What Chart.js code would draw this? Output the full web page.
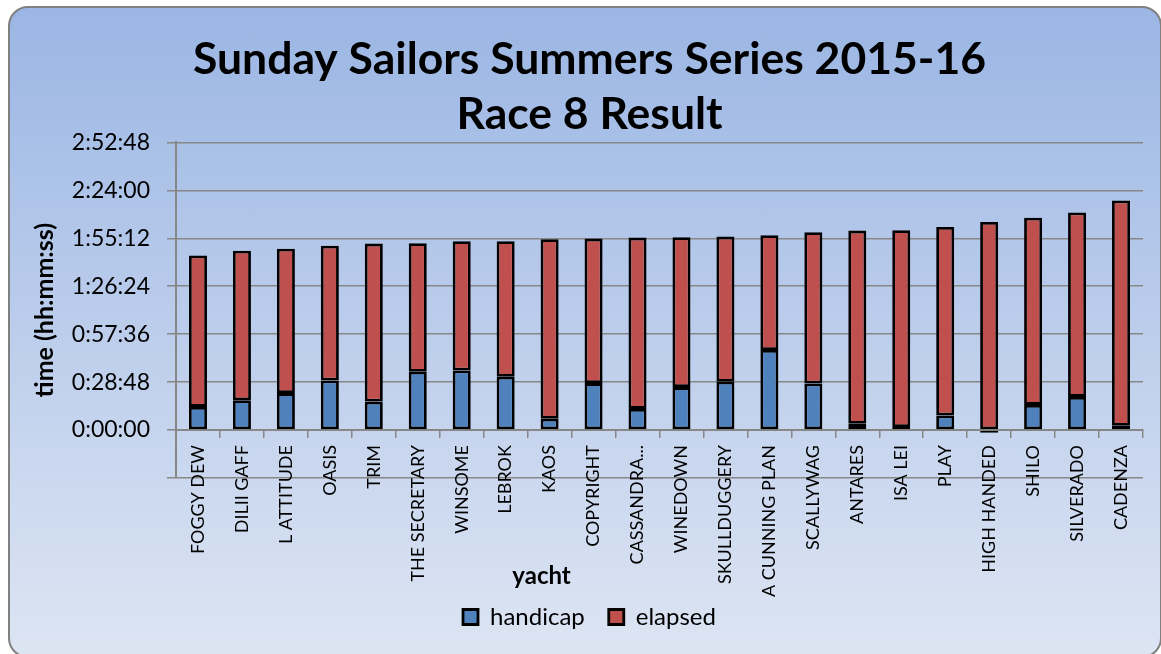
<!DOCTYPE html>
<html>
<head>
<meta charset="utf-8">
<title>Race 8 Result</title>
<script src="https://cdn.jsdelivr.net/npm/chart.js@4/dist/chart.umd.min.js"></script>
<style>
    html, body { margin: 0; padding: 0; background: #ffffff; }
    #frame {
        position: absolute; left: 8px; top: 6px; width: 1154px; height: 652px;
        box-sizing: border-box; border: 2px solid #808080; border-radius: 20px;
        background: linear-gradient(to bottom, #9bb6e4 0%, #dde5f3 100%);
    }
    #wrap { position: absolute; left: 0; top: 0; width: 1161px; height: 654px; }
</style>
</head>
<body>
<div id="frame"></div>
<div id="wrap"><canvas id="raceChart" width="1161" height="654"></canvas></div>
<script>
// yachts in finishing order
const yachts = ["FOGGY DEW", "DILII GAFF", "L ATTITUDE", "OASIS", "TRIM", "THE SECRETARY",
    "WINSOME", "LEBROK", "KAOS", "COPYRIGHT", "CASSANDRA...", "WINEDOWN", "SKULLDUGGERY",
    "A CUNNING PLAN", "SCALLYWAG", "ANTARES", "ISA LEI", "PLAY", "HIGH HANDED", "SHILO",
    "SILVERADO", "CADENZA"];

// times in seconds
const handicap = [834, 1074, 1332, 1788, 1026, 2100, 2148, 1920, 408, 1692, 762,
    1548, 1740, 2886, 1680, 228, 108, 522, -96, 906, 1194, 156];
const elapsed = [5460, 5388, 5202, 4854, 5694, 4632, 4656, 4884, 6468, 5208, 6174,
    5400, 5232, 4134, 5448, 6960, 7092, 6798, 7500, 6744, 6648, 8118];

// y axis: 28:48 steps from -0:28:48 to 2:52:48
const yStep = 1728;
const yMin = -1728;
const yMax = 10368;

function toHms(sec) {
    const h = Math.floor(sec / 3600);
    const m = Math.floor((sec % 3600) / 60);
    const s = Math.round(sec % 60);
    return h + ":" + String(m).padStart(2, "0") + ":" + String(s).padStart(2, "0");
}

const gridGrey = "#878787";

// draws the "yacht" axis caption
const axisCaption = {
    id: "axisCaption",
    afterDraw(chart) {
        const area = chart.chartArea;
        const ctx = chart.ctx;
        ctx.save();
        ctx.font = "bold 24px Lato";
        ctx.fillStyle = "#000";
        ctx.textAlign = "center";
        ctx.textBaseline = "middle";
        ctx.fillText("yacht", area.left + (area.right - area.left) * 0.378, 576);
        ctx.restore();
    }
};

const ctx = document.getElementById("raceChart").getContext("2d");

new Chart(ctx, {
    type: "bar",
    data: {
        labels: yachts,
        datasets: [{
            label: "handicap",
            data: handicap,
            backgroundColor: "#4f81bd",
            borderColor: "#000000",
            borderWidth: 2.8,
            borderSkipped: false
        }, {
            label: "elapsed",
            data: elapsed,
            backgroundColor: "#c0504d",
            borderColor: "#000000",
            borderWidth: 2.8,
            borderSkipped: false
        }]
    },
    options: {
        responsive: false,
        animation: false,
        categoryPercentage: 1,
        barPercentage: 0.41,
        layout: { padding: { left: 36, right: 18, top: 0, bottom: 15 } },
        plugins: {
            title: {
                display: true,
                text: ["Sunday Sailors Summers Series 2015-16", "Race 8 Result"],
                color: "#000",
                font: { family: "Lato", size: 44.5, weight: "bold", lineHeight: 1.24 },
                padding: { top: 32, bottom: 0 }
            },
            legend: {
                position: "bottom",
                labels: {
                    color: "#000",
                    font: { family: "Lato", size: 24 },
                    boxWidth: 15,
                    boxHeight: 15,
                    padding: 24
                }
            },
            tooltip: { enabled: false }
        },
        scales: {
            x: {
                stacked: true,
                position: { y: 0 },
                grid: {
                    offset: true,
                    drawOnChartArea: false,
                    tickLength: 7,
                    color: gridGrey,
                    lineWidth: 1.5
                },
                border: { display: true, color: gridGrey, width: 2 },
                ticks: {
                    autoSkip: false,
                    minRotation: 90,
                    maxRotation: 90,
                    padding: 8,
                    color: "#000",
                    font: { family: "Lato", size: 18 }
                }
            },
            xSpace: {
                type: "category",
                labels: yachts,
                position: "bottom",
                grid: { display: false },
                border: { display: false },
                ticks: { display: false },
                afterFit(scale) { scale.height = 103; }
            },
            y: {
                stacked: true,
                min: yMin,
                max: yMax,
                afterFit(scale) { scale.width = 140; },
                ticks: {
                    stepSize: yStep,
                    padding: 17,
                    color: "#000",
                    font: { family: "Lato", size: 23 },
                    callback: v => v < 0 ? "" : toHms(v)
                },
                grid: { color: gridGrey, lineWidth: 1.5, tickLength: 9 },
                border: { display: true, color: gridGrey, width: 2 },
                title: {
                    display: true,
                    text: "time (hh:mm:ss)",
                    color: "#000",
                    font: { family: "Lato", size: 25, weight: "bold", lineHeight: 0.72 },
                    padding: { top: 0, bottom: 0 }
                }
            }
        }
    },
    plugins: [axisCaption]
});
</script>
</body>
</html>
